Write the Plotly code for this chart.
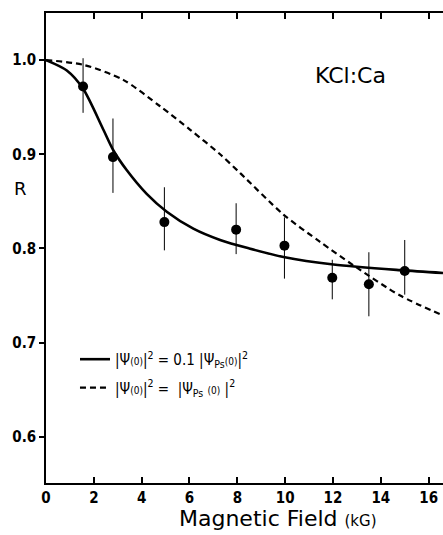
import plotly.graph_objects as go

# measured data points
field = [1.55, 2.8, 4.95, 7.95, 9.97, 11.97, 13.5, 15.0]
R = [0.972, 0.897, 0.828, 0.820, 0.803, 0.769, 0.762, 0.776]
err_plus = [0.030, 0.041, 0.037, 0.028, 0.030, 0.019, 0.034, 0.033]
err_minus = [0.028, 0.038, 0.030, 0.026, 0.035, 0.023, 0.034, 0.025]

# solid curve |psi(0)|^2 = 0.1 |psi_Ps(0)|^2
solid_x = [0.0, 0.87, 1.54, 2.40, 2.82, 3.38, 4.21, 5.05, 6.16, 7.28, 8.5, 9.93, 12.02, 14.81, 16.6]
solid_y = [1.0, 0.989, 0.970, 0.926, 0.904, 0.883, 0.858, 0.839, 0.821, 0.809, 0.800, 0.791, 0.783, 0.777, 0.774]

# dashed curve |psi(0)|^2 = |psi_Ps(0)|^2
dash_x = [0.0, 1.56, 3.23, 4.77, 6.03, 7.28, 8.12, 9.93, 11.46, 12.86, 14.81, 16.6]
dash_y = [1.0, 0.995, 0.979, 0.951, 0.926, 0.900, 0.880, 0.836, 0.807, 0.782, 0.750, 0.729]

x_ticks = [0, 2, 4, 6, 8, 10, 12, 14, 16]
y_ticks = [0.6, 0.7, 0.8, 0.9, 1.0]

tick_font = dict(family="DejaVu Sans Condensed", size=15, color="black", weight="bold")
sm = "<span style='font-size:10px'>"

fig = go.Figure()
fig.add_trace(go.Scatter(
    x=solid_x, y=solid_y, mode="lines", legendgroup="a",
    line=dict(color="black", width=2.6, shape="spline", smoothing=0.8),
    name="|Ψ" + sm + "(0)</span>|<sup>2</sup> = 0.1 |Ψ<sub>Ps</sub>" + sm + "(0)</span>|<sup>2</sup>"))
fig.add_trace(go.Scatter(
    x=dash_x, y=dash_y, mode="lines", legendgroup="b",
    line=dict(color="black", width=2.2, dash="6px,4px", shape="spline", smoothing=0.8),
    name="|Ψ" + sm + "(0)</span>|<sup>2</sup> =  |Ψ<sub>Ps</sub> " + sm + "(0)</span> |<sup>2</sup>"))
fig.add_trace(go.Scatter(
    x=field, y=R, mode="markers", marker=dict(color="black", size=10),
    error_y=dict(type="data", array=err_plus, arrayminus=err_minus, color="black", thickness=1, width=0),
    showlegend=False))

fig.add_annotation(x=12.72, y=0.984, text="KCl:Ca", showarrow=False, xref="x", yref="y",
                   font=dict(family="DejaVu Sans", size=22, color="black"))
fig.add_annotation(x=-0.063, y=0.864, xref="paper", yref="y", text="R", showarrow=False,
                   xanchor="center", yanchor="middle",
                   font=dict(family="DejaVu Sans", size=18, color="black"))
fig.add_annotation(x=0.584, y=-0.075, xref="paper", yref="paper",
                   text="Magnetic Field <span style='font-size:15px'>(kG)</span>",
                   showarrow=False, xanchor="center", yanchor="middle",
                   font=dict(family="DejaVu Sans", size=22, color="black"))

fig.update_layout(
    width=443, height=535,
    margin=dict(l=46, r=0, t=13, b=52, autoexpand=False),
    plot_bgcolor="white", paper_bgcolor="white",
    legend=dict(x=0.073, y=0.298, xanchor="left", yanchor="top", bgcolor="rgba(0,0,0,0)",
                font=dict(family="DejaVu Sans Condensed", size=15, color="black"),
                tracegroupgap=6, itemwidth=30),
    xaxis=dict(range=[0, 16.6], tickvals=x_ticks, ticktext=[str(v) for v in x_ticks],
               ticks="inside", ticklen=6, tickwidth=2, tickcolor="black",
               showline=True, linecolor="black", linewidth=1.5, mirror="ticks",
               showgrid=False, zeroline=False, tickfont=tick_font, automargin=False),
    yaxis=dict(range=[0.551, 1.05], tickvals=y_ticks, ticktext=["0.6", "0.7", "0.8", "0.9", "1.0"],
               ticks="outside", ticklen=5, tickwidth=2, tickcolor="black",
               showline=True, linecolor="black", linewidth=1.5, automargin=False,
               showgrid=False, zeroline=False, tickfont=tick_font),
)

fig.write_html("out.html", config={"displayModeBar": False},
               post_script="document.body.style.margin='0';document.body.style.overflow='hidden';")
